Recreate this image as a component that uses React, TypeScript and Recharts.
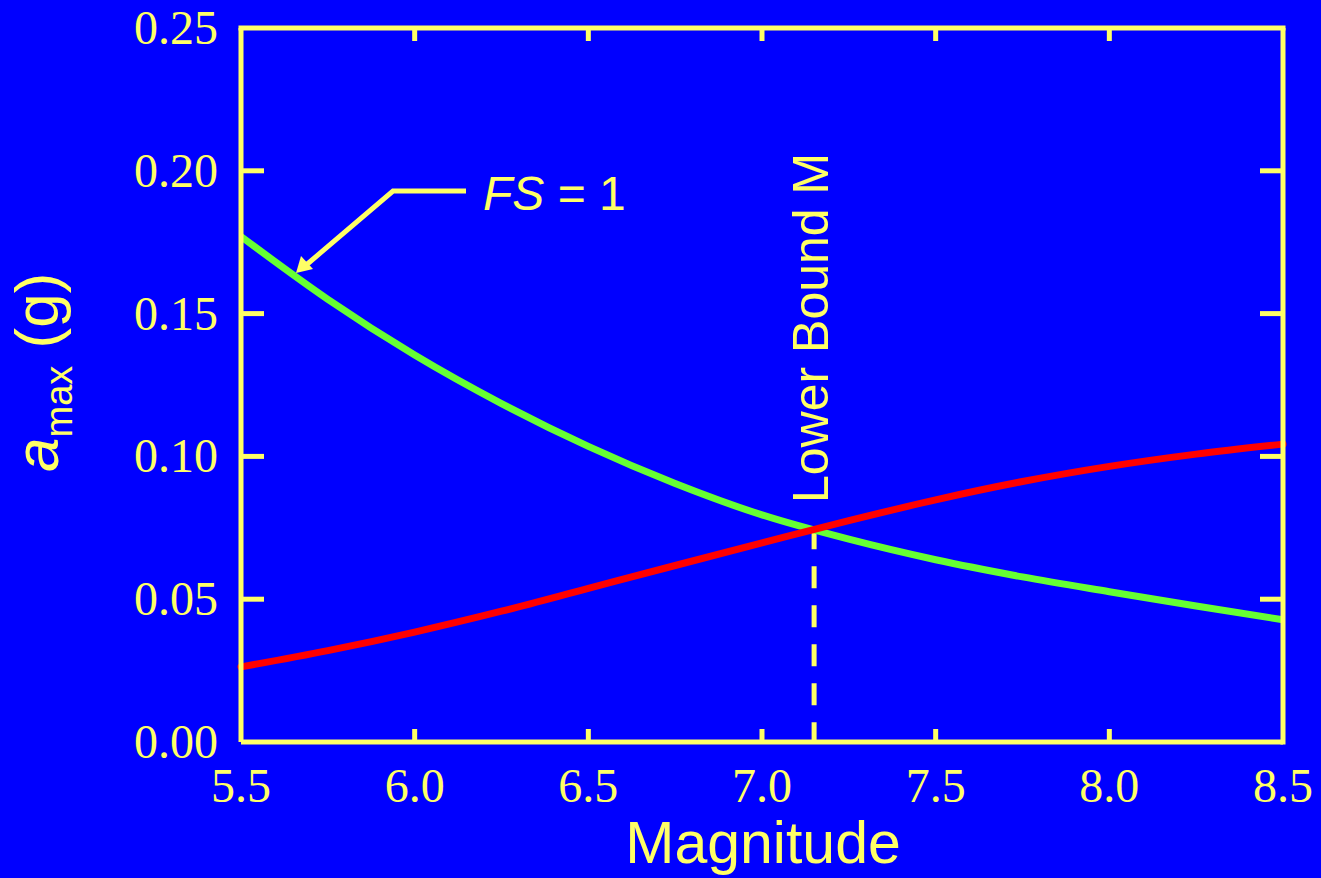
import { LineChart, Line, XAxis, YAxis, ReferenceLine } from "recharts";

// magnitude samples
const magnitudes = [5.5, 5.75, 6.0, 6.25, 6.5, 6.75, 7.0, 7.25, 7.5, 7.75, 8.0, 8.25, 8.5];
// FS = 1 curve (green)
const fsOneCurve = [0.177, 0.155, 0.1355, 0.1185, 0.1035, 0.0905, 0.0795, 0.071, 0.0638, 0.0578, 0.0526, 0.0476, 0.0428];
// design amax curve (red)
const amaxCurve = [0.0263, 0.032, 0.0385, 0.0458, 0.0538, 0.0618, 0.0697, 0.0775, 0.0848, 0.0912, 0.0965, 0.1008, 0.1043];

const xTicks = [5.5, 6.0, 6.5, 7.0, 7.5, 8.0, 8.5];
const yTicks = [0, 0.05, 0.1, 0.15, 0.2, 0.25];
const lowerBoundM = 7.15;
const lowerBoundA = 0.0752;

const data = magnitudes.map((m, i) => ({ m, fs: fsOneCurve[i], amax: amaxCurve[i] }));

const W = 1321;
const H = 878;
const BG = "#0000ff";
const YEL = "#ffff66";
const PLOT = { left: 241, right: 1283, top: 28, bottom: 742 };

const serif = "'Liberation Serif', 'Times New Roman', serif";
const sans = "'Liberation Sans', Arial, sans-serif";

const YTick = (props: any) => {
  const { x, y, payload } = props;
  const v = payload.value as number;
  const inner = v > 0.0001 && v < 0.2499;
  return (
    <g>
      <text x={x} y={y + 16} textAnchor="end" fill={YEL} fontFamily={serif} fontSize={48}>
        {v.toFixed(2)}
      </text>
      {inner && (
        <>
          <line x1={PLOT.left} x2={PLOT.left + 23} y1={y} y2={y} stroke={YEL} strokeWidth={5} />
          <line x1={PLOT.right - 23} x2={PLOT.right} y1={y} y2={y} stroke={YEL} strokeWidth={5} />
        </>
      )}
    </g>
  );
};

const XTick = (props: any) => {
  const { x, y, payload } = props;
  const v = payload.value as number;
  const inner = v > 5.51 && v < 8.49;
  return (
    <g>
      <text x={x} y={y + 60} textAnchor="middle" fill={YEL} fontFamily={serif} fontSize={48}>
        {v.toFixed(1)}
      </text>
      {inner && (
        <>
          <line x1={x} x2={x} y1={PLOT.bottom} y2={PLOT.bottom - 13} stroke={YEL} strokeWidth={5} />
          <line x1={x} x2={x} y1={PLOT.top} y2={PLOT.top + 13} stroke={YEL} strokeWidth={5} />
        </>
      )}
    </g>
  );
};

export default function App() {
  return (
    <div style={{ position: "absolute", left: 0, top: 0, width: W, height: H, background: BG, overflow: "hidden" }}>
      <LineChart width={W} height={H} data={data} margin={{ top: 28, right: 38, bottom: 0, left: 0 }}>
        <XAxis
          dataKey="m"
          type="number"
          domain={[5.5, 8.5]}
          ticks={xTicks}
          height={136}
          tickSize={0}
          tickMargin={0}
          tickLine={false}
          axisLine={{ stroke: YEL, strokeWidth: 5 }}
          tick={<XTick />}
          interval={0}
        />
        <YAxis
          type="number"
          domain={[0, 0.25]}
          ticks={yTicks}
          width={241}
          tickSize={0}
          tickMargin={23}
          tickLine={false}
          axisLine={{ stroke: YEL, strokeWidth: 5 }}
          tick={<YTick />}
          interval={0}
        />
        <ReferenceLine
          segment={[
            { x: lowerBoundM, y: lowerBoundA },
            { x: lowerBoundM, y: 0 },
          ]}
          stroke={YEL}
          strokeWidth={5}
          strokeDasharray="22 17"
        />
        <Line
          type="monotone"
          dataKey="fs"
          stroke="#66ff33"
          strokeWidth={7}
          dot={false}
          isAnimationActive={false}
        />
        <Line
          type="monotone"
          dataKey="amax"
          stroke="#ff0000"
          strokeWidth={7}
          strokeLinecap="round"
          dot={false}
          isAnimationActive={false}
        />
      </LineChart>

      {/* frame top/right, annotations and axis titles */}
      <svg
        width={W}
        height={H}
        style={{ position: "absolute", left: 0, top: 0, pointerEvents: "none" }}
      >
        <line x1={PLOT.left - 2.5} x2={PLOT.right + 2.5} y1={PLOT.top} y2={PLOT.top} stroke={YEL} strokeWidth={5} />
        <line x1={PLOT.right} x2={PLOT.right} y1={PLOT.top} y2={PLOT.bottom + 2.5} stroke={YEL} strokeWidth={5} />

        <text
          transform="translate(828,503) rotate(-90)"
          fill={YEL}
          fontFamily={sans}
          fontSize={50}
        >
          Lower Bound M
        </text>

        <polyline points="466,191 393,191 305,266" fill="none" stroke={YEL} strokeWidth={5} />
        <polygon points="296,273 301,256 313,269" fill={YEL} />
        <text x={483} y={210} fill={YEL} fontFamily={sans} fontSize={48}>
          <tspan fontStyle="italic">FS</tspan>
          <tspan> = 1</tspan>
        </text>

        <text x={763} y={863} textAnchor="middle" fill={YEL} fontFamily={sans} fontSize={59}>
          Magnitude
        </text>

        <text transform="translate(58,472) rotate(-90)" fill={YEL} fontFamily={sans} fontSize={62}>
          <tspan fontStyle="italic">a</tspan>
          <tspan fontSize={38} dy={14}>max</tspan>
          <tspan dy={-14}> (g)</tspan>
        </text>
      </svg>
    </div>
  );
}
